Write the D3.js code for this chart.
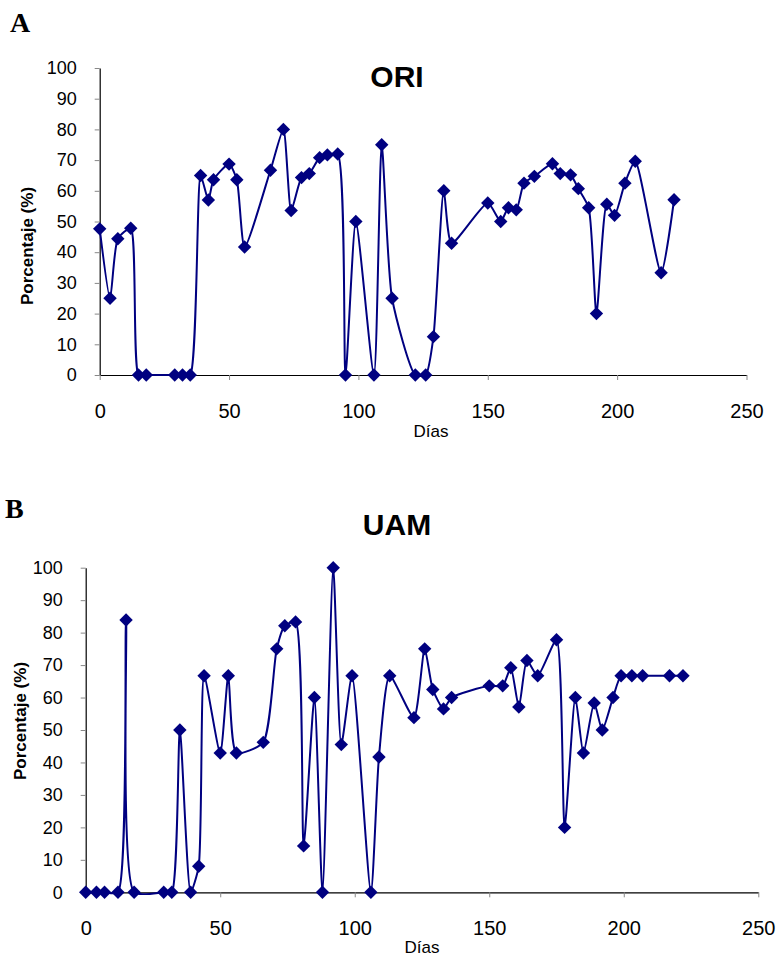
<!DOCTYPE html>
<html>
<head>
<meta charset="utf-8">
<script src="https://cdn.jsdelivr.net/npm/d3@7"></script>
<style>
  html, body { margin: 0; padding: 0; background: #fff; }
  svg { display: block; }
  text { font-family: "Liberation Sans", Arial, sans-serif; fill: #000; }
</style>
</head>
<body>
<svg id="fig" width="777" height="960"></svg>
<script>
// Sampling days (shared by both panels)
const dias = [0, 4, 7, 12, 15, 18, 29, 32, 35, 39, 42, 44, 50, 53, 56, 66, 71, 74, 78, 81,
  85, 88, 92, 95, 99, 106, 109, 113, 122, 126, 129, 133, 136, 150, 155, 158, 161, 164, 168,
  175, 178, 182, 185, 189, 192, 196, 199, 203, 207, 217, 222];

// Percentage per day, panel A (ORI)
const ori = [47.6, 25, 44.4, 47.8, 0, 0, 0, 0, 0, 65, 57, 63.6, 68.7, 63.6, 41.7, 66.7, 80, 53.6,
  64.3, 65.6, 70.8, 71.7, 72, 0, 50, 0, 75, 25, 0, 0, 12.5, 60, 42.9, 56, 50, 54.5, 53.8, 62.5,
  64.7, 68.8, 65.6, 65.2, 60.7, 54.5, 20, 55.6, 52, 62.5, 69.6, 33.3, 57.1];

// Percentage per day, panel B (UAM)
const uam = [0, 0, 0, 0, 83.9, 0, 0, 0, 50, 0, 8, 66.7, 42.9, 66.7, 42.9, 46.2, 75, 82.1, 83.3,
  14.3, 60, 0, 100, 45.5, 66.7, 0, 41.7, 66.7, 53.8, 75, 62.5, 56.5, 60, 63.6, 63.6, 69.2, 57.1,
  71.4, 66.7, 77.8, 20, 60, 42.9, 58.3, 50, 60, 66.7, 66.7, 66.7, 66.7, 66.7];

const xTicks = [0, 50, 100, 150, 200, 250];
const yTicks = [0, 10, 20, 30, 40, 50, 60, 70, 80, 90, 100];

// Centripetal Catmull-Rom with shortened tangents (a softer spreadsheet-style smoothing)
function softSpline(context) {
  const k = 0.6, alpha = 0.5, eps = 1e-12;
  let pts = [];
  return {
    areaStart() {}, areaEnd() {},
    lineStart() { pts = []; },
    point(x, y) { pts.push([+x, +y]); },
    lineEnd() {
      const n = pts.length;
      if (!n) return;
      context.moveTo(pts[0][0], pts[0][1]);
      for (let i = 0; i < n - 1; i++) {
        const p0 = pts[Math.max(0, i - 1)], p1 = pts[i], p2 = pts[i + 1], p3 = pts[Math.min(n - 1, i + 2)];
        const d = (a, b) => Math.hypot(b[0] - a[0], b[1] - a[1]);
        const l01 = Math.pow(d(p0, p1), alpha), l12 = Math.pow(d(p1, p2), alpha), l23 = Math.pow(d(p2, p3), alpha);
        const l01s = l01 * l01, l12s = l12 * l12, l23s = l23 * l23;
        let c1 = p1.slice(), c2 = p2.slice();
        if (l01 > eps) {
          const a = 2 * l01s + 3 * l01 * l12 + l12s, m = 3 * l01 * (l01 + l12);
          c1 = [(p1[0] * a - p0[0] * l12s + p2[0] * l01s) / m, (p1[1] * a - p0[1] * l12s + p2[1] * l01s) / m];
        }
        if (l23 > eps) {
          const b = 2 * l23s + 3 * l23 * l12 + l12s, m = 3 * l23 * (l23 + l12);
          c2 = [(p2[0] * b + p1[0] * l23s - p3[0] * l12s) / m, (p2[1] * b + p1[1] * l23s - p3[1] * l12s) / m];
        }
        c1 = [p1[0] + k * (c1[0] - p1[0]), p1[1] + k * (c1[1] - p1[1])];
        c2 = [p2[0] + k * (c2[0] - p2[0]), p2[1] + k * (c2[1] - p2[1])];
        context.bezierCurveTo(c1[0], c1[1], c2[0], c2[1], p2[0], p2[1]);
      }
    }
  };
}

const panels = [
  { letter: "A", title: "ORI", values: ori,
    x0: 99.7, x1: 746.5, y0: 375, y1: 68,
    letterPos: [10, 32], titlePos: [397, 87], ylabPos: [33, 246], xlabPos: [431, 437] },
  { letter: "B", title: "UAM", values: uam,
    x0: 85.7, x1: 758.3, y0: 892.3, y1: 567.7,
    letterPos: [5, 518], titlePos: [397, 535], ylabPos: [26, 721], xlabPos: [422, 953] }
];

const svg = d3.select("#fig");
const navy = "#000080";

panels.forEach(p => {
  const x = d3.scaleLinear().domain([0, 250]).range([p.x0, p.x1]);
  const y = d3.scaleLinear().domain([0, 100]).range([p.y0, p.y1]);
  const g = svg.append("g");

  // panel letter
  g.append("text")
    .attr("x", p.letterPos[0]).attr("y", p.letterPos[1])
    .style("font-family", "'Liberation Serif', 'Times New Roman', serif")
    .style("font-weight", "bold").style("font-size", "28px")
    .text(p.letter);

  // title
  g.append("text")
    .attr("x", p.titlePos[0]).attr("y", p.titlePos[1])
    .attr("text-anchor", "middle")
    .style("font-weight", "bold").style("font-size", "30px")
    .text(p.title);

  // y axis
  const yAxis = g.append("g")
    .attr("transform", `translate(${p.x0},0)`)
    .call(d3.axisLeft(y).tickValues(yTicks).tickSize(5).tickPadding(18).tickSizeOuter(0));
  yAxis.select(".domain").attr("stroke", "#000").attr("stroke-width", 1.2);
  yAxis.selectAll(".tick line").attr("stroke", "#888");
  yAxis.selectAll(".tick text")
    .style("font-size", "18px").style("font-family", "'Liberation Sans', Arial, sans-serif");

  // x axis
  const xAxis = g.append("g")
    .attr("transform", `translate(0,${p.y0})`)
    .call(d3.axisBottom(x).tickValues(xTicks).tickSize(5).tickPadding(24).tickSizeOuter(0));
  xAxis.select(".domain").attr("stroke", "#000").attr("stroke-width", 1.2);
  xAxis.selectAll(".tick line").attr("stroke", "#888");
  xAxis.selectAll(".tick text")
    .style("font-size", "20px").style("font-family", "'Liberation Sans', Arial, sans-serif");

  // axis titles
  g.append("text")
    .attr("transform", `translate(${p.ylabPos[0]},${p.ylabPos[1]}) rotate(-90)`)
    .attr("text-anchor", "middle")
    .style("font-weight", "bold").style("font-size", "17px")
    .text("Porcentaje (%)");
  g.append("text")
    .attr("x", p.xlabPos[0]).attr("y", p.xlabPos[1])
    .attr("text-anchor", "middle")
    .style("font-size", "17px")
    .text("Días");

  const pts = dias.map((d, i) => [d, p.values[i]]);

  // smoothed series line
  const line = d3.line()
    .x(d => x(d[0])).y(d => y(d[1]))
    .curve(softSpline);
  g.append("path")
    .datum(pts)
    .attr("d", line)
    .attr("fill", "none")
    .attr("stroke", navy)
    .attr("stroke-width", 2);

  // diamond markers
  const diamond = d3.symbol().type(d3.symbolSquare).size(90);
  g.selectAll("path.marker")
    .data(pts)
    .join("path")
    .attr("class", "marker")
    .attr("d", diamond)
    .attr("transform", d => `translate(${x(d[0])},${y(d[1])}) rotate(45)`)
    .attr("fill", navy);
});
</script>
</body>
</html>
